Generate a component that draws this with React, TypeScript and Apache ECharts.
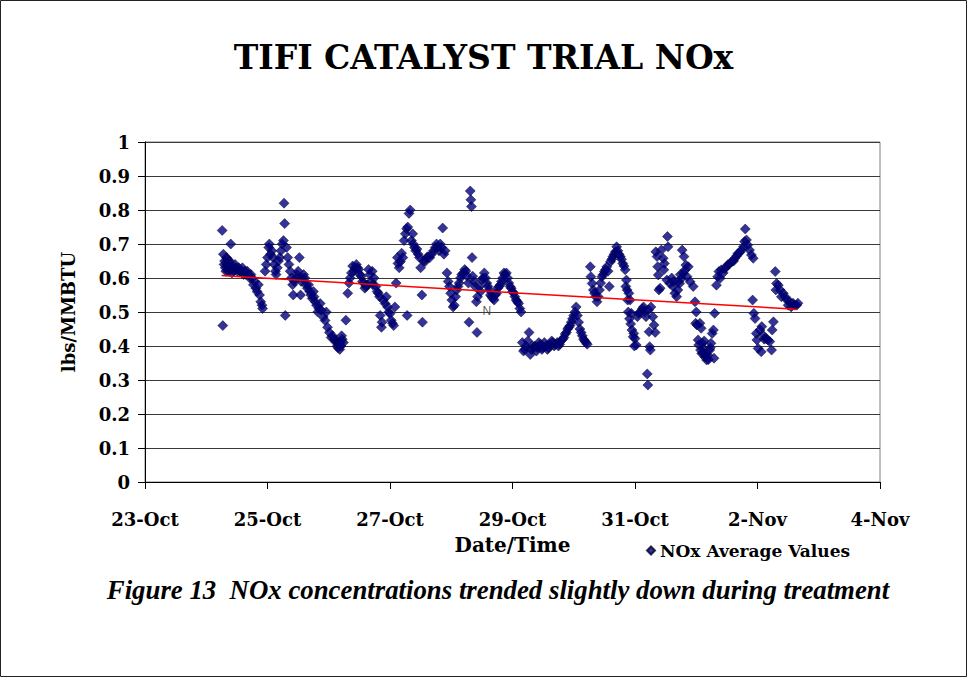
import React, { useEffect, useRef } from "react";
import * as echarts from "echarts";

// x values are days since 23-Oct 00:00; y values are lbs/MMBTU
const xTickLabels = ["23-Oct", "25-Oct", "27-Oct", "29-Oct", "31-Oct", "2-Nov", "4-Nov"];

const oct24: number[][] = [
  [1.26, 0.74], [1.27, 0.46], [1.28, 0.67], [1.29, 0.64], [1.30, 0.65], [1.31, 0.63], [1.32, 0.62], [1.33, 0.66],
  [1.34, 0.64], [1.35, 0.655], [1.36, 0.62], [1.37, 0.635], [1.38, 0.65], [1.39, 0.625], [1.40, 0.70], [1.41, 0.64],
  [1.42, 0.615], [1.43, 0.63], [1.45, 0.62], [1.47, 0.64], [1.49, 0.63], [1.51, 0.62], [1.53, 0.63], [1.55, 0.62],
  [1.57, 0.62], [1.59, 0.63], [1.61, 0.61], [1.63, 0.62], [1.65, 0.61], [1.67, 0.62], [1.69, 0.61], [1.71, 0.60],
  [1.73, 0.61], [1.75, 0.60], [1.77, 0.58], [1.79, 0.59], [1.81, 0.57], [1.83, 0.56], [1.85, 0.58], [1.87, 0.55],
  [1.89, 0.53], [1.91, 0.52], [1.92, 0.51], [1.96, 0.62], [1.98, 0.64],
];

const oct25: number[][] = [
  [2.00, 0.66], [2.02, 0.69], [2.03, 0.70], [2.05, 0.67], [2.07, 0.68], [2.09, 0.66], [2.11, 0.64], [2.13, 0.62],
  [2.14, 0.61], [2.16, 0.63], [2.18, 0.65], [2.20, 0.66], [2.22, 0.68], [2.24, 0.70], [2.26, 0.71], [2.27, 0.82],
  [2.28, 0.76], [2.29, 0.49], [2.31, 0.69], [2.33, 0.66], [2.35, 0.64], [2.37, 0.62], [2.39, 0.60], [2.41, 0.58],
  [2.42, 0.55], [2.44, 0.59], [2.46, 0.60], [2.48, 0.61], [2.50, 0.62], [2.52, 0.66], [2.54, 0.55], [2.55, 0.59],
  [2.57, 0.60], [2.59, 0.61], [2.61, 0.60], [2.63, 0.58], [2.65, 0.57], [2.67, 0.58], [2.69, 0.56], [2.71, 0.55],
  [2.73, 0.54], [2.75, 0.56], [2.76, 0.545], [2.78, 0.53], [2.80, 0.52], [2.82, 0.50], [2.84, 0.51], [2.86, 0.525],
  [2.88, 0.505], [2.91, 0.485], [2.94, 0.475], [2.96, 0.50], [2.98, 0.455],
];

const oct26: number[][] = [
  [3.01, 0.44], [3.04, 0.425], [3.06, 0.43], [3.09, 0.42], [3.12, 0.41], [3.13, 0.415], [3.14, 0.40], [3.15, 0.395],
  [3.16, 0.41], [3.17, 0.405], [3.18, 0.39], [3.19, 0.41], [3.20, 0.40], [3.21, 0.43], [3.22, 0.42], [3.24, 0.41],
  [3.28, 0.476], [3.31, 0.555], [3.33, 0.585], [3.35, 0.60], [3.37, 0.615], [3.39, 0.635], [3.41, 0.62], [3.43, 0.63],
  [3.45, 0.64], [3.47, 0.63], [3.49, 0.625], [3.51, 0.61], [3.53, 0.605], [3.55, 0.59], [3.57, 0.585], [3.59, 0.57],
  [3.61, 0.575], [3.63, 0.58], [3.65, 0.625], [3.67, 0.61], [3.69, 0.59], [3.71, 0.62], [3.72, 0.58], [3.74, 0.60],
  [3.77, 0.575], [3.79, 0.56], [3.81, 0.555], [3.83, 0.545], [3.84, 0.49], [3.86, 0.455], [3.87, 0.47], [3.89, 0.535],
  [3.92, 0.525], [3.94, 0.545], [3.96, 0.515], [3.98, 0.50],
];

const oct27: number[][] = [
  [4.00, 0.495], [4.02, 0.476], [4.04, 0.467], [4.06, 0.46], [4.08, 0.515], [4.10, 0.585], [4.12, 0.66], [4.13, 0.643],
  [4.15, 0.63], [4.17, 0.648], [4.19, 0.673], [4.21, 0.66], [4.23, 0.71], [4.25, 0.73], [4.27, 0.745], [4.28, 0.49],
  [4.29, 0.75], [4.31, 0.79], [4.33, 0.80], [4.35, 0.71], [4.37, 0.73], [4.38, 0.70], [4.40, 0.69], [4.42, 0.68],
  [4.44, 0.685], [4.46, 0.67], [4.48, 0.66], [4.50, 0.63], [4.52, 0.55], [4.53, 0.47], [4.55, 0.65], [4.57, 0.648],
  [4.60, 0.66], [4.62, 0.663], [4.65, 0.66], [4.68, 0.67], [4.71, 0.68], [4.74, 0.69], [4.76, 0.70], [4.78, 0.69],
  [4.80, 0.68], [4.82, 0.70], [4.84, 0.69], [4.86, 0.747], [4.88, 0.67], [4.90, 0.68], [4.93, 0.615], [4.95, 0.59],
  [4.97, 0.575], [4.99, 0.555],
];

const oct28: number[][] = [
  [5.01, 0.535], [5.03, 0.515], [5.05, 0.52], [5.07, 0.545], [5.09, 0.565], [5.11, 0.575], [5.13, 0.585], [5.15, 0.60],
  [5.17, 0.61], [5.20, 0.615], [5.22, 0.625], [5.24, 0.62], [5.26, 0.605], [5.28, 0.585], [5.29, 0.47], [5.31, 0.856],
  [5.32, 0.83], [5.33, 0.81], [5.34, 0.66], [5.35, 0.605], [5.37, 0.59], [5.39, 0.575], [5.41, 0.53], [5.42, 0.44],
  [5.43, 0.545], [5.46, 0.575], [5.48, 0.56], [5.50, 0.595], [5.52, 0.60], [5.54, 0.615], [5.56, 0.60], [5.58, 0.585],
  [5.60, 0.575], [5.62, 0.565], [5.64, 0.55], [5.66, 0.545], [5.68, 0.54], [5.70, 0.535], [5.72, 0.55], [5.74, 0.555],
  [5.76, 0.57], [5.78, 0.575], [5.80, 0.58], [5.82, 0.59], [5.84, 0.60], [5.86, 0.615], [5.88, 0.61], [5.90, 0.615],
  [5.92, 0.60], [5.94, 0.585], [5.96, 0.575], [5.98, 0.57],
];

const oct29: number[][] = [
  [6.00, 0.56], [6.02, 0.555], [6.04, 0.545], [6.06, 0.535], [6.08, 0.53], [6.10, 0.525], [6.12, 0.51], [6.14, 0.50],
  [6.16, 0.41], [6.18, 0.385], [6.20, 0.39], [6.22, 0.40], [6.25, 0.415], [6.27, 0.44], [6.29, 0.375], [6.31, 0.39],
  [6.33, 0.40], [6.35, 0.395], [6.37, 0.40], [6.39, 0.385], [6.41, 0.395], [6.43, 0.41], [6.46, 0.405], [6.48, 0.39],
  [6.50, 0.395], [6.52, 0.41], [6.55, 0.40], [6.57, 0.39], [6.59, 0.395], [6.61, 0.405], [6.64, 0.415], [6.66, 0.41],
  [6.68, 0.40], [6.70, 0.405], [6.73, 0.41], [6.75, 0.40], [6.77, 0.405], [6.79, 0.415], [6.82, 0.42], [6.84, 0.425],
  [6.86, 0.435], [6.88, 0.44], [6.90, 0.45], [6.92, 0.455], [6.94, 0.46], [6.96, 0.47], [6.98, 0.48],
];

const oct30: number[][] = [
  [7.00, 0.49], [7.02, 0.50], [7.04, 0.515], [7.06, 0.49], [7.08, 0.47], [7.10, 0.45], [7.12, 0.44], [7.14, 0.43],
  [7.16, 0.42], [7.18, 0.415], [7.20, 0.41], [7.22, 0.405], [7.27, 0.633], [7.28, 0.604], [7.30, 0.584], [7.32, 0.565],
  [7.34, 0.555], [7.36, 0.545], [7.38, 0.53], [7.40, 0.545], [7.42, 0.565], [7.44, 0.585], [7.46, 0.604], [7.48, 0.61],
  [7.50, 0.619], [7.52, 0.625], [7.54, 0.633], [7.56, 0.62], [7.58, 0.575], [7.60, 0.648], [7.62, 0.655], [7.64, 0.663],
  [7.66, 0.67], [7.68, 0.677], [7.70, 0.692], [7.72, 0.68], [7.74, 0.67], [7.76, 0.663], [7.78, 0.655], [7.80, 0.643],
  [7.82, 0.635], [7.84, 0.624], [7.85, 0.575], [7.86, 0.594], [7.87, 0.565], [7.88, 0.535], [7.89, 0.50], [7.90, 0.555],
  [7.91, 0.48], [7.92, 0.535], [7.93, 0.465], [7.94, 0.496], [7.95, 0.447], [7.97, 0.427], [7.98, 0.437], [7.99, 0.40],
];

const oct31: number[][] = [
  [8.00, 0.422], [8.02, 0.403], [8.04, 0.486], [8.06, 0.496], [8.09, 0.50], [8.12, 0.51], [8.14, 0.515], [8.16, 0.50],
  [8.18, 0.486], [8.20, 0.318], [8.21, 0.285], [8.22, 0.506], [8.23, 0.442], [8.24, 0.398], [8.25, 0.388], [8.26, 0.515],
  [8.29, 0.486], [8.31, 0.462], [8.33, 0.44], [8.34, 0.677], [8.36, 0.663], [8.37, 0.633], [8.38, 0.609], [8.39, 0.565],
  [8.41, 0.57], [8.43, 0.682], [8.46, 0.658], [8.47, 0.624], [8.48, 0.643], [8.52, 0.594], [8.53, 0.722], [8.54, 0.692],
  [8.57, 0.584], [8.60, 0.60], [8.62, 0.575], [8.63, 0.59], [8.65, 0.555], [8.68, 0.545], [8.70, 0.565], [8.71, 0.59],
  [8.73, 0.584], [8.74, 0.61], [8.76, 0.599], [8.77, 0.682], [8.79, 0.614], [8.80, 0.663], [8.82, 0.624], [8.83, 0.638],
  [8.85, 0.604], [8.87, 0.633], [8.90, 0.589], [8.95, 0.575], [8.98, 0.53], [8.99, 0.467],
];

const nov1: number[][] = [
  [9.00, 0.50], [9.01, 0.462], [9.03, 0.418], [9.04, 0.403], [9.06, 0.467], [9.07, 0.388], [9.08, 0.452], [9.09, 0.378],
  [9.10, 0.408], [9.11, 0.38], [9.12, 0.393], [9.13, 0.415], [9.14, 0.368], [9.15, 0.375], [9.17, 0.359], [9.19, 0.373],
  [9.20, 0.36], [9.22, 0.388], [9.23, 0.395], [9.24, 0.408], [9.26, 0.437], [9.28, 0.447], [9.29, 0.364], [9.30, 0.496],
  [9.33, 0.579], [9.35, 0.604], [9.37, 0.619], [9.39, 0.599], [9.41, 0.624], [9.44, 0.615], [9.47, 0.628], [9.49, 0.633],
  [9.52, 0.64], [9.55, 0.643], [9.58, 0.648], [9.61, 0.65], [9.63, 0.658], [9.66, 0.665], [9.68, 0.672], [9.71, 0.675],
  [9.74, 0.682], [9.77, 0.692], [9.79, 0.707], [9.80, 0.744], [9.82, 0.712], [9.84, 0.697], [9.87, 0.682], [9.90, 0.668],
  [9.92, 0.535], [9.93, 0.658], [9.94, 0.496], [9.96, 0.481], [9.98, 0.437], [9.99, 0.418],
];

const nov2: number[][] = [
  [10.01, 0.393], [10.04, 0.447], [10.06, 0.383], [10.07, 0.457], [10.09, 0.432], [10.11, 0.42], [10.14, 0.422],
  [10.17, 0.418], [10.20, 0.413], [10.23, 0.388], [10.24, 0.447], [10.26, 0.471], [10.29, 0.619], [10.30, 0.565],
  [10.31, 0.584], [10.34, 0.579], [10.37, 0.565], [10.39, 0.545], [10.42, 0.555], [10.45, 0.545], [10.48, 0.535],
  [10.50, 0.52], [10.53, 0.53], [10.55, 0.515], [10.58, 0.526], [10.61, 0.52], [10.64, 0.52], [10.66, 0.526],
];

// Linear trendline end points (as drawn on the chart)
const trendLine: number[][] = [
  [1.25, 0.607],
  [10.64, 0.508],
];

// Stray "N" label sitting under the trendline
const trendLabelPoint: number[][] = [[5.58, 0.503]];

const seriesName = "NOx Average Values";
const titleText = "TIFI CATALYST TRIAL NOx";
const captionText = "Figure 13  NOx concentrations trended slightly down during treatment";

const SERIF = '"DejaVu Serif", serif';

export default function App() {
  const ref = useRef<HTMLDivElement>(null);

  useEffect(() => {
    document.body.style.margin = "0";
    const chart = echarts.init(ref.current as HTMLDivElement, null, { renderer: "svg" });
    const allPoints = [
      ...oct24, ...oct25, ...oct26, ...oct27, ...oct28,
      ...oct29, ...oct30, ...oct31, ...nov1, ...nov2,
    ];
    chart.setOption({
      animation: false,
      backgroundColor: "#ffffff",
      title: {
        text: titleText,
        left: "center",
        top: 36,
        textStyle: { fontFamily: SERIF, fontWeight: "bold", fontSize: 33, color: "#000" },
      },
      grid: {
        left: 145,
        right: 87,
        top: 142,
        bottom: 195,
        show: true,
        borderColor: "#808080",
        borderWidth: 1,
        backgroundColor: "transparent",
      },
      legend: {
        data: [{ name: seriesName, icon: "diamond" }],
        left: 646,
        top: 542,
        padding: 0,
        itemWidth: 8,
        itemHeight: 8,
        itemGap: 5,
        textStyle: { fontFamily: SERIF, fontWeight: "bold", fontSize: 17, color: "#000" },
      },
      xAxis: {
        type: "value",
        min: 0,
        max: 12,
        interval: 2,
        name: "Date/Time",
        nameLocation: "middle",
        nameGap: 53,
        nameTextStyle: { fontFamily: SERIF, fontWeight: "bold", fontSize: 20, color: "#000" },
        axisLine: { show: true, onZero: false, lineStyle: { color: "#000", width: 1 } },
        axisTick: { show: true, inside: false, length: 7, lineStyle: { color: "#000" } },
        splitLine: { show: false },
        axisLabel: {
          margin: 28,
          fontFamily: SERIF,
          fontWeight: "bold",
          fontSize: 18,
          color: "#000",
          formatter: (v: number) => xTickLabels[Math.round(v / 2)] ?? "",
        },
      },
      yAxis: {
        type: "value",
        min: 0,
        max: 1,
        interval: 0.1,
        name: "lbs/MMBTU",
        nameLocation: "middle",
        nameGap: 68,
        nameRotate: 90,
        nameTextStyle: { fontFamily: SERIF, fontWeight: "bold", fontSize: 18, color: "#000" },
        axisLine: { show: true, lineStyle: { color: "#000", width: 1 } },
        axisTick: { show: true, inside: false, length: 7, lineStyle: { color: "#000" } },
        splitLine: { show: true, lineStyle: { color: "#3a3a3a", width: 1 } },
        axisLabel: {
          margin: 15,
          fontFamily: SERIF,
          fontWeight: "bold",
          fontSize: 18,
          color: "#000",
          formatter: (v: number) => String(Math.round(v * 10) / 10),
        },
      },
      series: [
        {
          name: seriesName,
          type: "scatter",
          data: allPoints,
          symbol: "diamond",
          symbolSize: 10,
          itemStyle: { color: "#000080", borderColor: "#000022", borderWidth: 0.6 },
          z: 3,
        },
        {
          name: "Linear trend",
          type: "line",
          data: trendLine,
          symbol: "none",
          lineStyle: { color: "#ff0000", width: 1.5 },
          z: 4,
        },
        {
          name: "trend label",
          type: "scatter",
          data: trendLabelPoint,
          symbol: "circle",
          symbolSize: 1,
          itemStyle: { color: "rgba(0,0,0,0)" },
          label: {
            show: true,
            position: "inside",
            formatter: () => "N",
            color: "#333333",
            fontSize: 12,
            fontFamily: '"Liberation Sans", Arial, sans-serif',
          },
          z: 5,
        },
      ],
      graphic: [
        {
          type: "rect",
          shape: { x: 0.5, y: 0.5, width: 966, height: 676 },
          style: { fill: "none", stroke: "#222", lineWidth: 1 },
          silent: true,
        },
        {
          type: "text",
          x: 498,
          y: 590,
          style: {
            text: captionText,
            fontFamily: '"Liberation Serif", "Times New Roman", serif',
            fontStyle: "italic",
            fontWeight: "bold",
            fontSize: 26.8,
            fill: "#000",
            align: "center",
            verticalAlign: "middle",
          },
        },
      ],
    });
    return () => chart.dispose();
  }, []);

  return (
    <div
      ref={ref}
      style={{ position: "absolute", left: 0, top: 0, width: 967, height: 677 }}
    />
  );
}
